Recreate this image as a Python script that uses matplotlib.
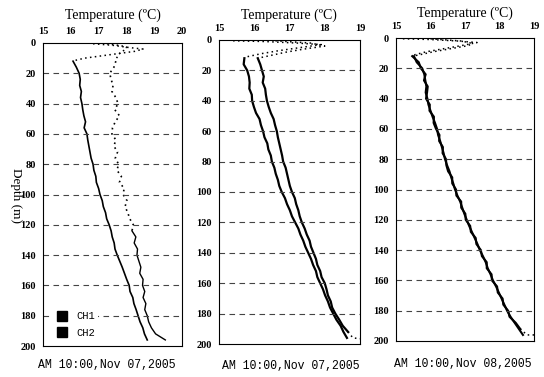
import matplotlib
matplotlib.use("Agg")
import matplotlib.pyplot as plt
from matplotlib.lines import Line2D

# depth samples (m) for the lower, solid part of each profile
DEPTH = [12, 16, 20, 24, 28, 32, 36, 40, 44, 48, 52, 56, 60, 64, 68, 72,
         76, 80, 84, 88, 92, 96, 100, 104, 108, 112, 116, 120, 124, 128,
         132, 136, 140, 144, 148, 152, 156, 160, 164, 168, 172, 176, 180,
         184, 188, 192, 196]

# panel 1 : AM 10:00, Nov 07
P1_CH1 = [16.08, 16.20, 16.30, 16.34, 16.32, 16.38, 16.35, 16.40, 16.43, 16.47,
          16.53, 16.48, 16.58, 16.61, 16.65, 16.69, 16.73, 16.80, 16.83, 16.90,
          16.92, 17.00, 17.05, 17.13, 17.17, 17.25, 17.29, 17.38, 17.45, 17.49,
          17.56, 17.59, 17.67, 17.76, 17.85, 17.93, 18.01, 18.10, 18.13, 18.23,
          18.27, 18.35, 18.42, 18.49, 18.59, 18.65, 18.75]
P1_CH2 = [17.62, 17.55, 17.40, 17.45, 17.52, 17.48, 17.62, 17.70, 17.58, 17.75,
          17.60, 17.50, 17.48, 17.62, 17.55, 17.68, 17.60, 17.72, 17.66, 17.82,
          17.75, 17.92, 17.88, 18.02, 17.95, 18.05, 18.12, 18.25, 18.20, 18.34,
          18.28, 18.40, 18.38, 18.45, 18.52, 18.48, 18.60, 18.58, 18.66, 18.60,
          18.70, 18.66, 18.75, 18.80, 18.90, 19.05, 19.40]
P1_TOP1_D = [0.5, 1.5, 3.0, 4.0, 5.5, 7.0, 8.5, 10.0, 11.5, 12.0]
P1_TOP1_T = [16.8, 17.5, 18.1, 18.6, 18.3, 17.7, 17.1, 16.5, 16.15, 16.08]
P1_TOP2_D = [0.5, 1.5, 2.5, 4.0, 6.0, 8.0, 10.0, 12.0]
P1_TOP2_T = [17.3, 17.7, 18.0, 18.0, 17.8, 17.7, 17.65, 17.62]

# panel 2 : AM 10:00, Nov 07
P2_CH1 = [15.72, 15.70, 15.80, 15.85, 15.87, 15.86, 15.93, 15.94, 15.99, 16.05,
          16.15, 16.19, 16.25, 16.29, 16.37, 16.40, 16.47, 16.50, 16.57, 16.61,
          16.67, 16.71, 16.78, 16.87, 16.93, 17.01, 17.07, 17.16, 17.25, 17.31,
          17.39, 17.45, 17.53, 17.61, 17.67, 17.75, 17.79, 17.87, 17.95, 18.01,
          18.09, 18.15, 18.24, 18.33, 18.45, 18.53, 18.63]
P2_CH2 = [16.10, 16.17, 16.22, 16.27, 16.24, 16.31, 16.33, 16.36, 16.41, 16.47,
          16.55, 16.59, 16.64, 16.67, 16.71, 16.75, 16.79, 16.82, 16.89, 16.93,
          16.97, 17.01, 17.07, 17.15, 17.19, 17.25, 17.29, 17.35, 17.43, 17.49,
          17.57, 17.61, 17.68, 17.75, 17.79, 17.87, 17.91, 18.00, 18.05, 18.09,
          18.17, 18.21, 18.30, 18.41, 18.51, 18.66, 18.80]
P2_TOP1_D = [0.5, 1.0, 2.0, 3.0, 5.0, 7.0, 9.0, 11.0, 12.0]
P2_TOP1_T = [15.4, 16.3, 17.2, 17.9, 17.3, 16.7, 16.2, 15.8, 15.72]
P2_TOP2_D = [0.5, 2.0, 4.0, 6.0, 8.0, 10.0, 12.0]
P2_TOP2_T = [16.6, 17.6, 18.0, 17.4, 16.9, 16.5, 16.10]

# panel 3 : AM 10:00, Nov 08
P3_CH1 = [15.52, 15.60, 15.76, 15.82, 15.85, 15.88, 15.86, 15.91, 15.94, 16.00,
          16.06, 16.13, 16.19, 16.22, 16.28, 16.33, 16.38, 16.42, 16.48, 16.55,
          16.60, 16.66, 16.71, 16.78, 16.86, 16.92, 16.98, 17.05, 17.12, 17.20,
          17.28, 17.36, 17.43, 17.52, 17.60, 17.66, 17.74, 17.81, 17.90, 17.98,
          18.06, 18.14, 18.22, 18.32, 18.44, 18.56, 18.68]
P3_CH2 = [15.47, 15.66, 15.72, 15.86, 15.81, 15.92, 15.90, 15.87, 15.98, 15.97,
          16.10, 16.09, 16.16, 16.26, 16.25, 16.36, 16.35, 16.45, 16.46, 16.51,
          16.63, 16.63, 16.74, 16.75, 16.89, 16.89, 17.01, 17.02, 17.15, 17.17,
          17.31, 17.33, 17.46, 17.49, 17.63, 17.63, 17.77, 17.78, 17.93, 17.95,
          18.09, 18.11, 18.25, 18.29, 18.47, 18.60, 18.80]
P3_TOP1_D = [0.5, 1.0, 2.0, 3.0, 5.0, 7.0, 9.0, 11.0, 12.0]
P3_TOP1_T = [15.2, 16.0, 16.8, 17.35, 16.9, 16.4, 15.9, 15.55, 15.52]
P3_TOP2_D = [0.5, 2.0, 3.5, 5.0, 7.0, 9.0, 11.0, 12.0]
P3_TOP2_T = [16.0, 16.9, 17.2, 17.1, 16.6, 16.1, 15.7, 15.47]

TITLE = "Temperature (ºC)"
DATES = ["AM 10:00,Nov 07,2005", "AM 10:00,Nov 07,2005", "AM 10:00,Nov 08,2005"]
YTICKS = [0, 20, 40, 60, 80, 100, 120, 140, 160, 180, 200]
XMAX = [20, 19, 19]

W, H = 544, 377
# axes boxes in pixels: left, right, top, bottom
BOXES = [(43, 182, 43, 346), (219, 360, 40, 344), (396, 534, 38, 341)]
TITLE_XY = [(113, 15), (289, 15), (465, 13)]
DATE_XY = [(107, 365), (291, 366), (463, 364)]

SERIES = [
    (P1_CH1, P1_CH2, P1_TOP1_D, P1_TOP1_T, P1_TOP2_D, P1_TOP2_T),
    (P2_CH1, P2_CH2, P2_TOP1_D, P2_TOP1_T, P2_TOP2_D, P2_TOP2_T),
    (P3_CH1, P3_CH2, P3_TOP1_D, P3_TOP1_T, P3_TOP2_D, P3_TOP2_T),
]

SERIF = ["Liberation Serif", "DejaVu Serif"]
MONO = ["Liberation Mono", "DejaVu Sans Mono"]
DOTS = (0, (1, 2.2))


def main():
    fig = plt.figure(figsize=(W / 100, H / 100), dpi=100)

    for i, (box, data) in enumerate(zip(BOXES, SERIES)):
        l, r, t, b = box
        ax = fig.add_axes([l / W, 1 - b / H, (r - l) / W, (b - t) / H])
        ch1, ch2, d1, t1, d2, t2 = data

        # near-surface readings are scattered -> dotted
        ax.plot(t1, d1, color="black", lw=1.1, linestyle=DOTS)
        ax.plot(t2, d2, color="black", lw=1.1, linestyle=DOTS)

        if i == 0:
            ax.plot(ch1, DEPTH, color="black", lw=1.2)
            ax.plot(ch2[:29], DEPTH[:29], color="black", lw=1.2, linestyle=DOTS)
            ax.plot(ch2[28:], DEPTH[28:], color="black", lw=1.0)
        elif i == 1:
            ax.plot(ch1, DEPTH, color="black", lw=1.6)
            ax.plot(ch2[:-1], DEPTH[:-1], color="black", lw=1.6)
            ax.plot(ch2[-2:] + [19.0], DEPTH[-2:] + [196.5], color="black",
                    lw=1.1, linestyle=DOTS)
        else:
            ax.plot(ch1, DEPTH, color="black", lw=1.5)
            ax.plot(ch2[:-1], DEPTH[:-1], color="black", lw=1.5)
            ax.plot(ch2[-2:] + [19.0], DEPTH[-2:] + [196.0], color="black",
                    lw=1.1, linestyle=DOTS)

        ax.set_xlim(15, XMAX[i])
        ax.set_ylim(200, 0)
        ax.set_xticks(list(range(15, XMAX[i] + 1)))
        ax.set_yticks(YTICKS)
        ax.xaxis.tick_top()
        ax.tick_params(length=0, labelsize=7.5, pad=5)
        for lab in ax.get_xticklabels() + ax.get_yticklabels():
            lab.set_family(SERIF)
            lab.set_weight("bold")

        for y in YTICKS[1:-1]:
            ax.axhline(y, color="#444444", lw=0.8, linestyle=(0, (5, 4)))
        for sp in ax.spines.values():
            sp.set_linewidth(0.8)

        fig.text(TITLE_XY[i][0] / W, 1 - TITLE_XY[i][1] / H, TITLE,
                 family=SERIF, fontsize=10, ha="center", va="center")
        fig.text(DATE_XY[i][0] / W, 1 - DATE_XY[i][1] / H, DATES[i],
                 family=MONO, fontsize=8.3, ha="center", va="center")

        if i == 0:
            handles = [Line2D([], [], color="black", marker="s", linestyle="none",
                              markersize=7),
                       Line2D([], [], color="black", marker="s", linestyle="none",
                              markersize=7)]
            leg = ax.legend(handles, ["CH1", "CH2"], loc="lower left",
                            bbox_to_anchor=(0.03, 0.0), frameon=True,
                            prop={"family": MONO, "size": 7.5},
                            handletextpad=0.8, labelspacing=0.6, handlelength=1.2,
                            fancybox=False, borderpad=0.3)
            leg.get_frame().set_edgecolor("none")
            leg.get_frame().set_facecolor("white")
            leg.get_frame().set_alpha(1)

    fig.text(16 / W, 1 - 196 / H, "Depth (m)", rotation=-90, family=SERIF,
             fontsize=9.5, ha="center", va="center")

    fig.savefig("out.png", dpi=100)


if __name__ == "__main__":
    main()
